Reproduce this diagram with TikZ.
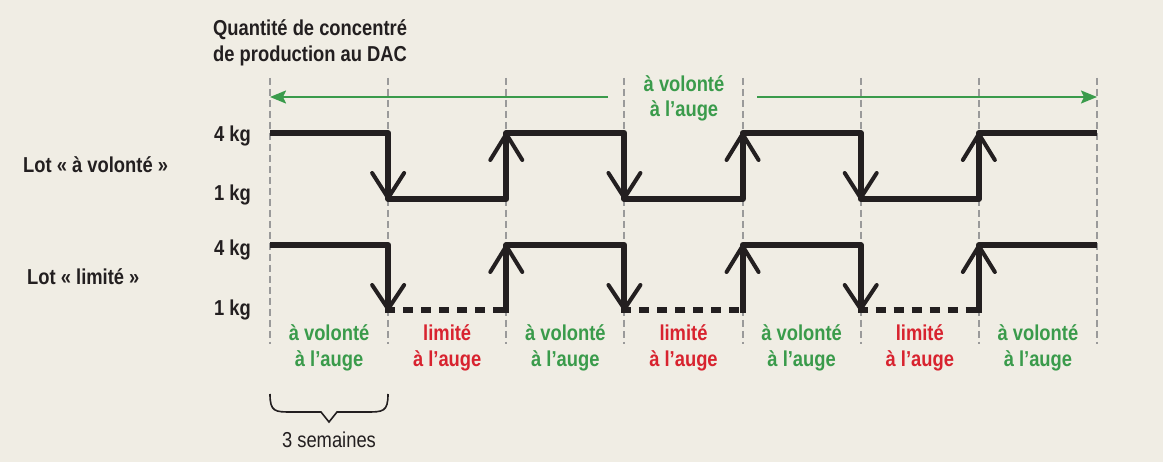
\documentclass[tikz,border=0pt]{standalone}
\usepackage{fontspec}
\setmainfont{Liberation Sans}[FakeStretch=0.85]
\usetikzlibrary{arrows.meta}
\definecolor{bg}{HTML}{F0EDE4}
\definecolor{ink}{HTML}{231F20}
\definecolor{vgreen}{HTML}{3A9B4B}
\definecolor{lred}{HTML}{D8232F}
\definecolor{guide}{HTML}{9A9A9A}
\begin{document}
\begin{tikzpicture}[x=1pt,y=-1pt,
  lbl/.style={font=\fontsize{21.6}{25}\selectfont\bfseries, inner sep=0pt, text=ink},
  glbl/.style={lbl, text=vgreen},
  rlbl/.style={lbl, text=lred},
  guideline/.style={guide, line width=2pt, dash pattern=on 7pt off 4pt},
  wave/.style={ink, line width=6pt, line join=round},
  tipv/.style={ink, line width=4pt, line join=round, line cap=round},
  lowdash/.style={ink, line width=6pt, dash pattern=on 10pt off 8pt},
  garrow/.style={vgreen, line width=2pt, -{Stealth[length=16pt,width=13pt,inset=3pt]}},
  bracestyle/.style={ink, line width=1.6pt}
]
\useasboundingbox (0,0) rectangle (1163,462);
\fill[bg] (0,0) rectangle (1163,462);

% guide lines
\foreach \i in {0,...,7} {
  \pgfmathsetmacro{\gx}{270+118.143*\i}
  \coordinate (gt\i) at (\gx,78);
  \coordinate (gb\i) at (\gx,344);
  \draw[guideline] (gt\i) -- (gb\i);
}

% title
\node[lbl, anchor=base west] (title1) at (213,36) {Quantité de concentré};
\node[lbl, anchor=base west] (title2) at (213,62) {de production au DAC};

% top green label and arrows
\node[glbl, anchor=base] (topl1) at (684,92) {à volonté};
\node[glbl, anchor=base] (topl2) at (684,117) {à l’auge};
\coordinate (al) at (608,97);
\coordinate (ar) at (757,97);
\coordinate (alend) at (270,97);
\coordinate (arend) at (1097,97);
\draw[garrow] (al) -- (alend);
\draw[garrow] (ar) -- (arend);

% left labels
\node[lbl, anchor=base west] (lotv) at (23,173) {Lot « à volonté »};
\node[lbl, anchor=base west] (lotl) at (27,285) {Lot « limité »};
\node[lbl, anchor=base east] (k4a) at (251,142) {4 kg};
\node[lbl, anchor=base east] (k1a) at (251,201) {1 kg};
\node[lbl, anchor=base east] (k4b) at (251,256) {4 kg};
\node[lbl, anchor=base east] (k1b) at (251,316) {1 kg};

% top wave (à volonté)
\draw[wave] (270,133) -- (388.14,133) -- (388.14,199) -- (506.29,199) -- (506.29,133)
  -- (624.43,133) -- (624.43,199) -- (742.57,199) -- (742.57,133) -- (860.71,133)
  -- (860.71,199) -- (978.86,199) -- (978.86,133) -- (1097,133);
\foreach \x in {388.14,624.43,860.71} {
  \draw[tipv] (\x-16,173) -- (\x,198) -- (\x+16,173);
}
\foreach \x in {506.29,742.57,978.86} {
  \draw[tipv] (\x-16,160) -- (\x,134) -- (\x+16,160);
}

% bottom wave (limité)
\draw[wave] (270,245) -- (388.14,245) -- (388.14,310);
\draw[wave] (506.29,313) -- (506.29,245) -- (624.43,245) -- (624.43,310);
\draw[wave] (742.57,313) -- (742.57,245) -- (860.71,245) -- (860.71,310);
\draw[wave] (978.86,313) -- (978.86,245) -- (1097,245);
\foreach \x in {388.14,624.43,860.71} {
  \draw[lowdash] (\x-3,310) -- (\x+118.14,310);
  \draw[tipv] (\x-16,285) -- (\x,309) -- (\x+16,285);
}
\foreach \x in {506.29,742.57,978.86} {
  \draw[tipv] (\x-16,272) -- (\x,246) -- (\x+16,272);
}

% bottom period labels
\foreach \i/\c in {0/g,1/r,2/g,3/r,4/g,5/r,6/g} {
  \pgfmathsetmacro{\cx}{329.07+118.143*\i}
  \if\c g
    \node[glbl, anchor=base] (pa\i) at (\cx,341) {à volonté};
    \node[glbl, anchor=base] (pb\i) at (\cx,367) {à l’auge};
  \else
    \node[rlbl, anchor=base] (pa\i) at (\cx,341) {limité};
    \node[rlbl, anchor=base] (pb\i) at (\cx,367) {à l’auge};
  \fi
}

% brace
\draw[bracestyle] (270,394) .. controls (270,412) and (275,412) .. (292,412)
  -- (321,412) -- (329,422) -- (337,412) -- (366,412)
  .. controls (383,412) and (388,412) .. (388,394);
\node[font=\fontsize{21.6}{25}\selectfont, inner sep=0pt, text=ink, anchor=base] (sem) at (329,448) {3 semaines};
\end{tikzpicture}
\end{document}
